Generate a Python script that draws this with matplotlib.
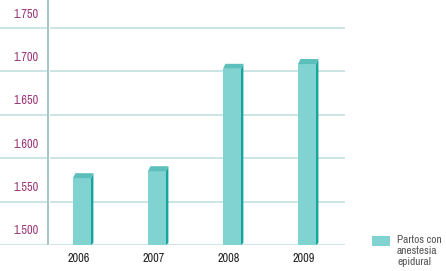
import numpy as np
import matplotlib
matplotlib.use("Agg")
import matplotlib.pyplot as plt
from matplotlib import font_manager
from matplotlib.patches import Rectangle, Polygon
from matplotlib.transforms import offset_copy

names = sorted({f.name for f in font_manager.fontManager.ttflist})
narrow = [n for n in names if 'Narrow' in n or 'Condensed' in n]
fam = narrow[0] if narrow else 'Liberation Sans'
plt.rcParams['font.family'] = [fam, 'DejaVu Sans']
plt.rcParams['font.stretch'] = 'condensed'

# data
years = ['2006', '2007', '2008', '2009']
partos_epidural = [1.577, 1.585, 1.703, 1.7085]
ytick_vals = [1.500, 1.550, 1.600, 1.650, 1.700, 1.750]
ytick_labels = ['1.500', '1.550', '1.600', '1.650', '1.700', '1.750']
legend_label = 'Partos con\nanestesia\nepidural'

face_col = '#80d3d0'
side_col = '#16a49f'
top_col = '#5cbfbc'
grid_col = '#bcdcdc'
axis_col = '#8cb4b4'
label_col = '#9c3475'

W, H = 446, 271
fig = plt.figure(figsize=(W / 100, H / 100), dpi=100)
ax = fig.add_axes([0, (H - 245) / H, 1, 245 / H])

px_x = 75.0                      # pixels per category step
px_y = 43.4 / 0.05               # pixels per unit value
x0_px = 82                       # pixel of first bar centre
ax.set_xlim(-x0_px / px_x, (W - x0_px) / px_x)
ax.set_ylim(1.5, 1.5 + 245 / px_y)
ax.axis('off')

axis_x = (48.5 - x0_px) / px_x
grid_end = (345 - x0_px) / px_x
gap = 1.5 / px_x
for v in ytick_vals:
    ax.hlines(v, ax.get_xlim()[0], axis_x - gap, color=grid_col, lw=1.1)
    ax.hlines(v, axis_x + gap, grid_end, color=grid_col, lw=1.1)
ax.vlines(axis_x, 1.5, ax.get_ylim()[1], color=axis_col, lw=1.1)

fs = 8.8 if narrow else 7.5
fs_leg = 8.2 if narrow else 7

# y labels, drawn above their gridline
lab_tr = offset_copy(ax.transData, fig=fig, x=-10, y=14, units='dots')
for v, s in zip(ytick_vals, ytick_labels):
    ax.text(axis_x, v, s, transform=lab_tr, ha='right', va='center',
            fontsize=fs, color=label_col)

# pseudo-3d bars
bw = 18 / px_x
dx = 2.4 / px_x
dy = 5 / px_y
for i, val in enumerate(partos_epidural):
    left = i - bw / 2
    ax.add_patch(Rectangle((left, 1.5), bw, val - 1.5, facecolor=face_col,
                           edgecolor='none', zorder=3))
    ax.add_patch(Polygon([(left + bw, 1.5), (left + bw + dx, 1.5 + dy * 0.4),
                          (left + bw + dx, val + dy), (left + bw, val)],
                         closed=True, facecolor=side_col, edgecolor='none', zorder=3))
    ax.add_patch(Polygon([(left, val), (left + dx, val + dy),
                          (left + bw + dx, val + dy), (left + bw, val)],
                         closed=True, facecolor=top_col, edgecolor='none', zorder=3))

# year labels
yr_tr = offset_copy(ax.transData, fig=fig, x=-3, y=-14, units='dots')
for i, yr in enumerate(years):
    ax.text(i, 1.5, yr, transform=yr_tr, ha='center', va='center',
            fontsize=fs, color='#222222')

# legend
fig.patches.append(Rectangle((372 / W, 1 - 246 / H), 18 / W, 10 / H,
                             facecolor=face_col, edgecolor='none',
                             transform=fig.transFigure, figure=fig))
fig.text(397 / W, 1 - 235 / H, legend_label, ha='left', va='top',
         fontsize=fs_leg, color='#555555', linespacing=1.12)

fig.savefig('out.png', dpi=100)
